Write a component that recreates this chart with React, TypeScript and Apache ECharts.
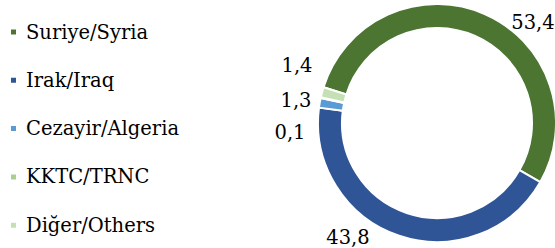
import React, { useEffect, useRef } from "react";
import * as echarts from "echarts";

const categories = ["Suriye/Syria", "Irak/Iraq", "Cezayir/Algeria", "KKTC/TRNC", "Diğer/Others"];
const values = [53.4, 43.8, 1.3, 0.1, 1.4];
const colors = ["#4b7531", "#2f5597", "#5b9bd5", "#a9d18e", "#c5e0b4"];
// label offsets from the pie centre (style only)
const labelOffsets: [number, number][] = [
  [96, -101],
  [-89, 114],
  [-141, -23],
  [-147, 9],
  [-140, -58],
];

const CX = 437;
const CY = 123;
const FONT = "DejaVu Serif";

export default function App() {
  const ref = useRef<HTMLDivElement>(null);
  useEffect(() => {
    if (!ref.current) return;
    const chart = echarts.init(ref.current, undefined, { renderer: "svg" });
    chart.setOption({
      animation: false,
      textStyle: { fontFamily: FONT },
      legend: {
        orient: "vertical",
        left: 9,
        top: 20,
        padding: 0,
        itemWidth: 7,
        itemHeight: 7,
        itemGap: 24.3,
        icon: "rect",
        data: categories,
        textStyle: {
          fontFamily: FONT,
          fontSize: 19.5,
          lineHeight: 24,
          color: "#000",
          padding: [0, 0, 0, 4],
        },
      },
      series: [
        {
          type: "pie",
          center: [CX, CY],
          radius: [95, 119],
          startAngle: 162.5,
          clockwise: true,
          avoidLabelOverlap: false,
          itemStyle: { borderColor: "#fff", borderWidth: 2 },
          label: {
            show: true,
            position: "outside",
            fontFamily: FONT,
            fontSize: 19.5,
            color: "#000",
            formatter: (p: any) => p.value.toFixed(1).replace(".", ","),
          },
          labelLine: { show: false },
          labelLayout: (p: any) => {
            const o = labelOffsets[p.dataIndex];
            return { x: CX + o[0], y: CY + o[1], align: "center", verticalAlign: "middle" };
          },
          data: categories.map((name, i) => ({
            name,
            value: values[i],
            itemStyle: { color: colors[i] },
          })),
        },
      ],
    });
    return () => chart.dispose();
  }, []);
  return (
    <div
      ref={ref}
      style={{ position: "fixed", left: 0, top: 0, width: 555, height: 248, background: "#fff" }}
    />
  );
}
